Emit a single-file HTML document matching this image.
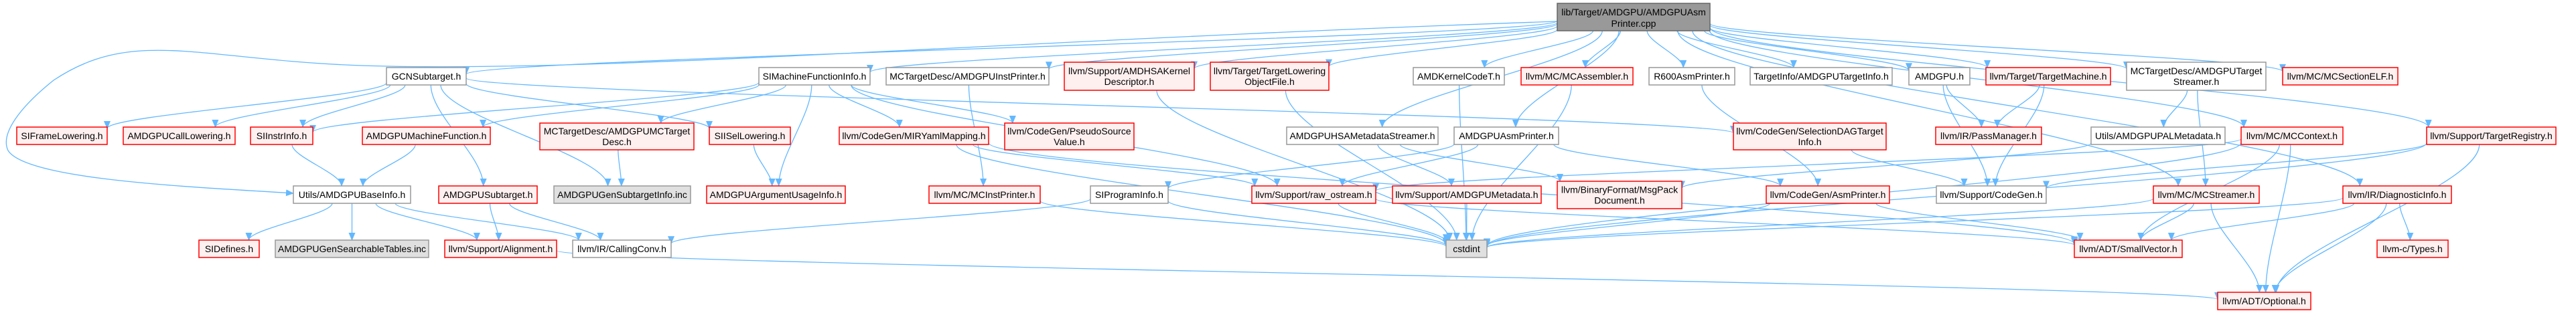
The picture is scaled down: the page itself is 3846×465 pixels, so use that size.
<!DOCTYPE html>
<html><head><meta charset="utf-8">
<style>
html,body{margin:0;padding:0;background:#fff;}
svg{display:block;}
text{font-family:"Liberation Sans",Arial,sans-serif;font-size:14px;fill:#000;}
</style></head>
<body>
<svg id="g" xmlns="http://www.w3.org/2000/svg" width="3846" height="465" viewBox="0 0 3846 465">
<defs>
<marker id="ar" markerWidth="12" markerHeight="10" refX="11" refY="5" orient="auto" markerUnits="userSpaceOnUse">
<path d="M0,0 L12,5 L0,10 z" fill="#63b8ff"/>
</marker>
</defs>
<g id="edges" fill="none" stroke="#63b8ff" stroke-width="1.3"></g>
<path d="M2325,32 C1500,60 900,110 540,98 C300,90 200,40 80,120 C30,160 0,200 12,225 C40,270 300,280 438,289" fill="none" stroke="#63b8ff" stroke-width="1.3" marker-end="url(#ar)"/>
<g id="nodes">
<rect x="2325" y="5" width="228" height="41" fill="#999" stroke="#666" stroke-width="1.5"/>
<text x="2439" y="23" text-anchor="middle">lib/Target/AMDGPU/AMDGPUAsm</text>
<text x="2439" y="40" text-anchor="middle">Printer.cpp</text>
</g>
</svg>
<script>
var S={w:["#fff","#999"],r:["#fff0f0","#ff0000"],g:["#e0e0e0","#999"]};
var A=[101,127],A2=[93,135],B=[190,216],B2=[184,224],C=[278,304],C2=[271,312],D=[359,385],E=[437,463];
var N={
GCN:[577,696,A,"w",["GCNSubtarget.h"]],
SIMFI:[1133,1299,A,"w",["SIMachineFunctionInfo.h"]],
IP:[1323,1566,A,"w",["MCTargetDesc/AMDGPUInstPrinter.h"]],
HSAKD:[1589,1783,A2,"r",["llvm/Support/AMDHSAKernel","Descriptor.h"]],
TLOF:[1807,1984,A2,"r",["llvm/Target/TargetLowering","ObjectFile.h"]],
KCT:[2110,2246,A,"w",["AMDKernelCodeT.h"]],
MCA:[2271,2438,A,"r",["llvm/MC/MCAssembler.h"]],
R6:[2462,2590,A,"w",["R600AsmPrinter.h"]],
TI:[2613,2825,A,"w",["TargetInfo/AMDGPUTargetInfo.h"]],
AG:[2850,2941,A,"w",["AMDGPU.h"]],
TM:[2965,3151,A,"r",["llvm/Target/TargetMachine.h"]],
TS:[3175,3383,A2,"w",["MCTargetDesc/AMDGPUTarget","Streamer.h"]],
ELF:[3408,3580,A,"r",["llvm/MC/MCSectionELF.h"]],
SIFL:[25,160,B,"r",["SIFrameLowering.h"]],
CL:[184,351,B,"r",["AMDGPUCallLowering.h"]],
SIII:[374,467,B,"r",["SIInstrInfo.h"]],
AMF:[541,732,B,"r",["AMDGPUMachineFunction.h"]],
MCTD:[806,1036,B2,"r",["MCTargetDesc/AMDGPUMCTarget","Desc.h"]],
SIIS:[1059,1180,B,"r",["SIISelLowering.h"]],
MIR:[1253,1476,B,"r",["llvm/CodeGen/MIRYamlMapping.h"]],
PSV:[1500,1693,B2,"r",["llvm/CodeGen/PseudoSource","Value.h"]],
HMS:[1921,2147,B,"w",["AMDGPUHSAMetadataStreamer.h"]],
AAP:[2171,2327,B,"w",["AMDGPUAsmPrinter.h"]],
SD:[2588,2816,B2,"r",["llvm/CodeGen/SelectionDAGTarget","Info.h"]],
PM:[2890,3048,B,"r",["llvm/IR/PassManager.h"]],
PAL:[3122,3322,B,"w",["Utils/AMDGPUPALMetadata.h"]],
MCC:[3346,3498,B,"r",["llvm/MC/MCContext.h"]],
TR:[3623,3816,B,"r",["llvm/Support/TargetRegistry.h"]],
BI:[438,613,C,"w",["Utils/AMDGPUBaseInfo.h"]],
AS:[655,802,C,"r",["AMDGPUSubtarget.h"]],
GSI:[827,1031,C,"g",["AMDGPUGenSubtargetInfo.inc"]],
AUI:[1055,1262,C,"r",["AMDGPUArgumentUsageInfo.h"]],
MIP:[1387,1553,C,"r",["llvm/MC/MCInstPrinter.h"]],
SPI:[1628,1744,C,"w",["SIProgramInfo.h"]],
RO:[1869,2054,C,"r",["llvm/Support/raw_ostream.h"]],
AM:[2079,2301,C,"r",["llvm/Support/AMDGPUMetadata.h"]],
MP:[2325,2511,C2,"r",["llvm/BinaryFormat/MsgPack","Document.h"]],
AP:[2637,2821,C,"r",["llvm/CodeGen/AsmPrinter.h"]],
CG:[2891,3055,C,"w",["llvm/Support/CodeGen.h"]],
MCS:[3215,3373,C,"r",["llvm/MC/MCStreamer.h"]],
DI:[3498,3660,C,"r",["llvm/IR/DiagnosticInfo.h"]],
SID:[297,387,D,"r",["SIDefines.h"]],
GST:[411,640,D,"g",["AMDGPUGenSearchableTables.inc"]],
AL:[664,831,D,"r",["llvm/Support/Alignment.h"]],
CC:[855,1002,D,"w",["llvm/IR/CallingConv.h"]],
CS:[2159,2220,D,"g",["cstdint"]],
SV:[3097,3258,D,"r",["llvm/ADT/SmallVector.h"]],
TY:[3549,3655,D,"r",["llvm-c/Types.h"]],
OPT:[3311,3450,E,"r",["llvm/ADT/Optional.h"]],
TOP:[2325,2553,[5,46],"t",[]]
};
var EG=[
["TOP","GCN"],["TOP","SIMFI"],["TOP","IP"],["TOP","HSAKD"],["TOP","TLOF"],["TOP","KCT"],["TOP","MCA"],["TOP","R6"],["TOP","TI"],["TOP","AG"],["TOP","TM"],["TOP","TS"],["TOP","ELF"],["TOP","MCC"],["TOP","MCS"],["TOP","TR"],["TOP","DI"],["TOP","HMS"],["TOP","AAP"],
["GCN","SIFL"],["GCN","CL"],["GCN","SIII"],["GCN","AS"],["GCN","GSI"],["GCN","SIIS"],["GCN","SD"],
["SIMFI","SIII"],["SIMFI","AMF"],["SIMFI","MCTD"],["SIMFI","AUI"],["SIMFI","MIR"],["SIMFI","PSV"],["SIMFI","RO"],
["SIII","BI"],["AMF","BI"],["MCTD","GSI"],["SIIS","AUI"],["BI","SID"],["BI","GST"],["BI","AL"],["BI","CC"],["AS","AL"],["AS","CC"],["AL","OPT"],
["MIR","RO"],["MIR","CS"],["MIR","SV"],["IP","MIP"],["HSAKD","CS"],["TLOF","CS"],["MIP","CS"],["SPI","CS"],["SPI","CC"],
["HMS","AM"],["HMS","MP"],["AAP","SPI"],["AAP","AP"],["AAP","RO"],["RO","CS"],["RO","SV"],["AM","CS"],["KCT","CS"],["MCA","CS"],["R6","AP"],
["SD","CG"],["AG","PM"],["AG","CG"],["TM","PM"],["TM","CG"],["TS","PAL"],["TS","MCS"],["PAL","MP"],
["AP","SV"],["AP","CS"],["MCC","SV"],["MCC","OPT"],["MCC","CS"],["MCC","RO"],["TR","OPT"],["TR","CG"],["TR","CS"],["MCS","SV"],["MCS","OPT"],["MCS","CS"],["DI","TY"],["DI","OPT"],["DI","SV"],["DI","CS"]
];
var ns="http://www.w3.org/2000/svg";
function box(n){return {x1:n[0],x2:n[1],y1:n[2][0],y2:n[2][1],cx:(n[0]+n[1])/2,cy:(n[2][0]+n[2][1])/2};}
function clip(b,tx,ty){var dx=tx-b.cx,dy=ty-b.cy;var hw=(b.x2-b.x1)/2,hh=(b.y2-b.y1)/2;var t=Math.min(dx?hw/Math.abs(dx):1e9,dy?hh/Math.abs(dy):1e9);return [b.cx+dx*t,b.cy+dy*t];}
var eg=document.getElementById("edges");
EG.forEach(function(e){var a=box(N[e[0]]),b=box(N[e[1]]);
var p=clip(a,b.cx,b.cy),q=clip(b,a.cx,a.cy);
var dy=q[1]-p[1];
var d="M"+p[0].toFixed(1)+","+p[1].toFixed(1)+" C"+p[0].toFixed(1)+","+(p[1]+dy*0.3).toFixed(1)+" "+q[0].toFixed(1)+","+(q[1]-dy*0.3).toFixed(1)+" "+q[0].toFixed(1)+","+q[1].toFixed(1);
var pa=document.createElementNS(ns,"path");pa.setAttribute("d",d);pa.setAttribute("marker-end","url(#ar)");eg.appendChild(pa);});
var ng=document.getElementById("nodes");
for(var k in N){var n=N[k];if(n[3]=="t")continue;var s=S[n[3]];
var r=document.createElementNS(ns,"rect");r.setAttribute("x",n[0]);r.setAttribute("y",n[2][0]);r.setAttribute("width",n[1]-n[0]);r.setAttribute("height",n[2][1]-n[2][0]);r.setAttribute("fill",s[0]);r.setAttribute("stroke",s[1]);r.setAttribute("stroke-width","1.5");ng.appendChild(r);
var L=n[4],cx=(n[0]+n[1])/2,cy=(n[2][0]+n[2][1])/2;
for(var i=0;i<L.length;i++){var t=document.createElementNS(ns,"text");t.setAttribute("x",cx);t.setAttribute("y",cy+5+(i-(L.length-1)/2)*16);t.setAttribute("text-anchor","middle");t.textContent=L[i];ng.appendChild(t);}}
</script>
</body></html>
